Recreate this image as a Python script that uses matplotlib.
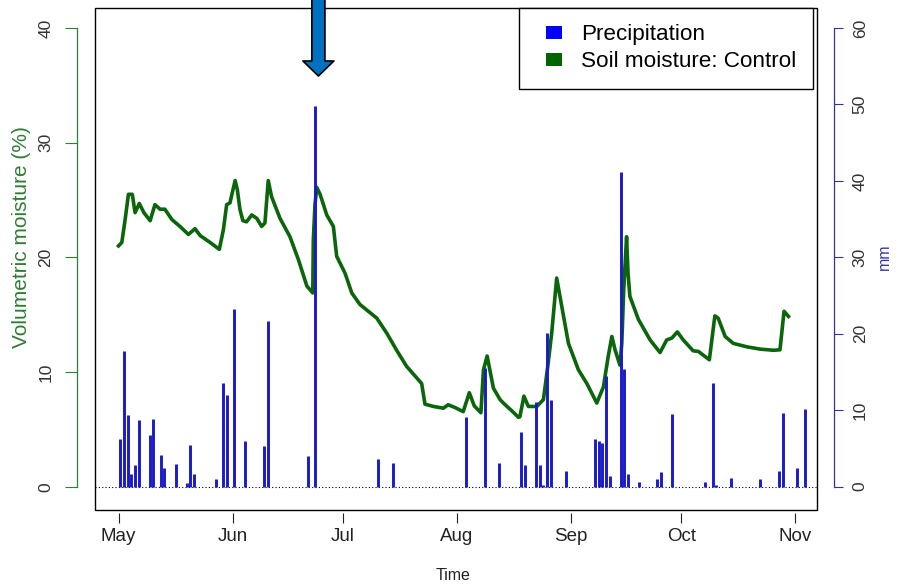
import numpy as np
import pandas as pd
import matplotlib
matplotlib.use('Agg')
import matplotlib.pyplot as plt
import matplotlib.dates as mdates
from matplotlib.patches import Rectangle, Patch
from matplotlib.legend_handler import HandlerPatch

plt.rcParams['font.family'] = ['Liberation Sans', 'DejaVu Sans']

season_start = '2013-05-01'

# daily precipitation (mm)
rain_dates = ['05-01', '05-02', '05-03', '05-04', '05-05', '05-06', '05-09', '05-10', '05-12',
              '05-13', '05-16', '05-19', '05-20', '05-21', '05-27', '05-29', '05-30',
              '06-01', '06-04', '06-09', '06-10', '06-21', '06-23',
              '07-10', '07-14',
              '08-03', '08-08', '08-12', '08-18', '08-19', '08-22', '08-23', '08-24', '08-25',
              '08-26', '08-30',
              '09-07', '09-08', '09-09', '09-10', '09-11', '09-14', '09-15', '09-16', '09-19',
              '09-24', '09-25', '09-28',
              '10-07', '10-09', '10-10', '10-14', '10-22', '10-27', '10-28',
              '11-01', '11-03']
rain_mm = [6.3, 17.7, 9.4, 1.7, 2.8, 8.7, 6.7, 8.9, 4.2,
           2.4, 3.0, 0.5, 5.5, 1.6, 1.0, 13.5, 12.0,
           23.2, 6.0, 5.3, 21.7, 4.0, 49.8,
           3.6, 3.1,
           9.1, 15.5, 3.1, 7.1, 2.8, 11.1, 2.8, 0.2, 20.1,
           11.4, 2.0,
           6.3, 6.0, 5.7, 14.5, 1.4, 41.2, 15.4, 1.7, 0.6,
           1.0, 1.9, 9.5,
           0.6, 13.5, 0.2, 1.2, 1.0, 2.1, 9.6,
           2.5, 10.2]

# soil moisture (Control), days since 1 May and volumetric moisture (%)
moist_day = [0.0, 0.9, 1.8, 2.7, 3.75, 4.5, 5.65, 6.9, 8.6, 9.9, 11.3, 12.6, 14.5, 16.7, 19.0,
             20.8, 22.2, 24.9, 27.4, 28.5, 29.4, 30.3, 30.9, 31.7, 32.3, 33.0, 33.8, 34.8, 36.2,
             37.6, 38.9, 39.8, 40.7, 41.6, 43.9, 46.6, 48.9, 51.2, 52.8, 52.95, 53.4, 53.9, 54.8,
             56.6, 58.4, 59.3, 61.6, 63.4, 65.6, 67.9, 70.2, 72.9, 75.6, 78.3, 82.4, 83.3, 85.6,
             88.3, 89.6, 91.5, 93.7, 95.35, 96.7, 98.5, 99.2, 100.2, 101.9, 103.7, 104.6, 107.3,
             108.7, 109.1, 110.2, 111.4, 113.7, 115.5, 116.8, 117.75, 119.1, 120.5, 122.3, 125.0,
             127.3, 130.0, 131.8, 133.1, 134.1, 135.0, 136.3, 136.8, 137.3, 138.1, 138.5, 139.0,
             141.3, 144.5, 147.2, 149.0, 150.4, 151.9, 153.5, 156.2, 157.6, 160.6, 162.1, 163.0,
             164.9, 167.1, 170.8, 174.4, 178.0, 179.8, 180.9, 182.1]
moist_pct = [21.0, 21.3, 23.3, 25.5, 25.5, 23.9, 24.7, 23.9, 23.2, 24.6, 24.2, 24.2, 23.3, 22.7, 22.0,
             22.5, 21.9, 21.3, 20.7, 22.4, 24.6, 24.75, 25.6, 26.7, 25.9, 24.2, 23.2, 23.1, 23.7,
             23.4, 22.7, 23.0, 26.7, 25.3, 23.4, 21.8, 19.8, 17.5, 16.9, 21.5, 24.6, 26.1, 25.5,
             23.7, 22.7, 20.1, 18.6, 16.9, 15.9, 15.3, 14.7, 13.4, 11.9, 10.5, 9.0, 7.2, 7.0,
             6.85, 7.15, 6.9, 6.55, 8.2, 7.05, 6.45, 10.2, 11.4, 8.6, 7.6, 7.3, 6.5,
             6.05, 6.1, 7.9, 7.0, 7.0, 7.6, 10.8, 13.4, 18.2, 15.7, 12.5, 10.2,
             9.0, 7.3, 8.7, 11.35, 13.1, 11.9, 10.6, 12.5, 17.0, 21.8, 18.6, 16.6,
             14.6, 12.8, 11.7, 12.8, 12.96, 13.5, 12.8, 11.85, 11.8, 11.07, 14.9, 14.7,
             13.1, 12.5, 12.2, 12.0, 11.9, 11.94, 15.3, 14.85]

month_ticks = ['05-01', '06-01', '07-01', '08-01', '09-01', '10-01', '11-01']
left_ticks = [0, 10, 20, 30, 40]
right_ticks = [0, 10, 20, 30, 40, 50, 60]
legend_labels = ['Precipitation', 'Soil moisture: Control']

year = season_start[:4]
t0 = pd.Timestamp(season_start)
rain_x = [pd.Timestamp(f'{year}-{d}') + pd.Timedelta(hours=12) for d in rain_dates]
moist_x = [t0 + pd.Timedelta(days=d) for d in moist_day]
tick_x = [pd.Timestamp(f'{year}-{d}') for d in month_ticks]

W, H = 906, 585
fig = plt.figure(figsize=(W / 100, H / 100), dpi=100)
bx0, bx1, by0, by1 = 95, 817, 7.5, 510
ax = fig.add_axes([bx0 / W, 1 - by1 / H, (bx1 - bx0) / W, (by1 - by0) / H])
ax2 = ax.twinx()

green = '#0b650b'
blue_bar = '#1a1ac8'

ax.plot(moist_x, moist_pct, color=green, lw=2.6, solid_joinstyle='round', zorder=3)
ax.axhline(0, color='black', lw=0.8, ls=(0, (1, 2)), zorder=1)
ax2.vlines(rain_x, 0, rain_mm, color=blue_bar, lw=2.1, zorder=3)

ax.set_xlim(t0 - pd.Timedelta(days=6.39), t0 + pd.Timedelta(days=189.86))
ax.set_ylim(-2.03, 41.79)
ax2.set_ylim(-3.05, 62.69)

for s in ax.spines.values():
    s.set_visible(False)
for s in ax2.spines.values():
    s.set_visible(False)

ax.spines['left'].set_visible(True)
ax.spines['left'].set_position(('outward', 18 * 0.72))
ax.spines['left'].set_bounds(0, 40)
ax.spines['left'].set_color('#2e7d32')
ax.spines['left'].set_linewidth(0.9)
ax.spines['bottom'].set_position(('outward', 2))

ax2.spines['right'].set_visible(True)
ax2.spines['right'].set_position(('outward', 17 * 0.72))
ax2.spines['right'].set_bounds(0, 60)
ax2.spines['right'].set_color('#33339a')
ax2.spines['right'].set_linewidth(0.9)

ax.set_xticks(tick_x)
ax.xaxis.set_major_formatter(mdates.DateFormatter('%b'))
ax.tick_params(axis='x', length=7, width=0.8, labelsize=13.5, pad=4, colors='#222222')

ax.set_yticks(left_ticks)
ax.tick_params(axis='y', length=9, width=0.8, color='#2e7d32', labelsize=12.5, pad=8,
               labelcolor='#333333')
for lab in ax.get_yticklabels():
    lab.set_rotation(90)
    lab.set_va('center')

ax2.set_yticks(right_ticks)
ax2.tick_params(axis='y', length=6.5, width=0.8, color='#33339a', labelsize=12.5, pad=7,
                labelcolor='#333333')
for lab in ax2.get_yticklabels():
    lab.set_rotation(90)
    lab.set_va('center')

ax2.add_patch(Rectangle((0, 0), 1, 1, transform=ax.transAxes, fill=False, ec='black',
                        lw=1.0, clip_on=False, zorder=5))

fig.text(22 / W, 1 - 237 / H, 'Volumetric moisture (%)', rotation=90, ha='center', va='center',
         color='#2e7d32', fontsize=15)
fig.text(884 / W, 1 - 257 / H, 'mm', rotation=90, ha='center', va='center',
         color='#3333aa', fontsize=11.5)
fig.text(453 / W, 1 - 575 / H, 'Time', ha='center', va='center', color='#222222', fontsize=11.5)


def square(legend, orig_handle, xdescent, ydescent, width, height, fontsize):
    w, h = 0.74 * fontsize, 0.6 * fontsize
    return Rectangle((-xdescent + width - w, -ydescent + (height - h) / 2), w, h)


handles = [Patch(fc='#0000ff', ec='none'), Patch(fc='#006400', ec='none')]
leg = ax2.legend(handles, legend_labels, loc='upper right', bbox_to_anchor=(1 - 4 / 722, 1),
                 borderaxespad=0, fontsize=16.2, frameon=True, fancybox=False,
                 edgecolor='black', framealpha=1, borderpad=0.74, handlelength=1.18,
                 handletextpad=0.83, labelspacing=0.27,
                 handler_map={Patch: HandlerPatch(patch_func=square)})
leg.get_frame().set_linewidth(1.0)
leg.set_zorder(6)

# arrow pointing at the largest rain event
imax = int(np.argmax(rain_mm))
arrow_x = rain_x[imax] + pd.Timedelta(hours=20)
ax2.annotate('', xy=(arrow_x, 0.8637), xycoords=('data', 'axes fraction'),
             xytext=(arrow_x, 1.08), textcoords=('data', 'axes fraction'),
             arrowprops=dict(arrowstyle='simple,head_length=1.08,head_width=2.23,tail_width=0.94',
                             mutation_scale=10, fc='#0070c0', ec='black', lw=1.2,
                             shrinkA=0, shrinkB=0),
             annotation_clip=False, zorder=10)

fig.savefig('out.png', dpi=100)
